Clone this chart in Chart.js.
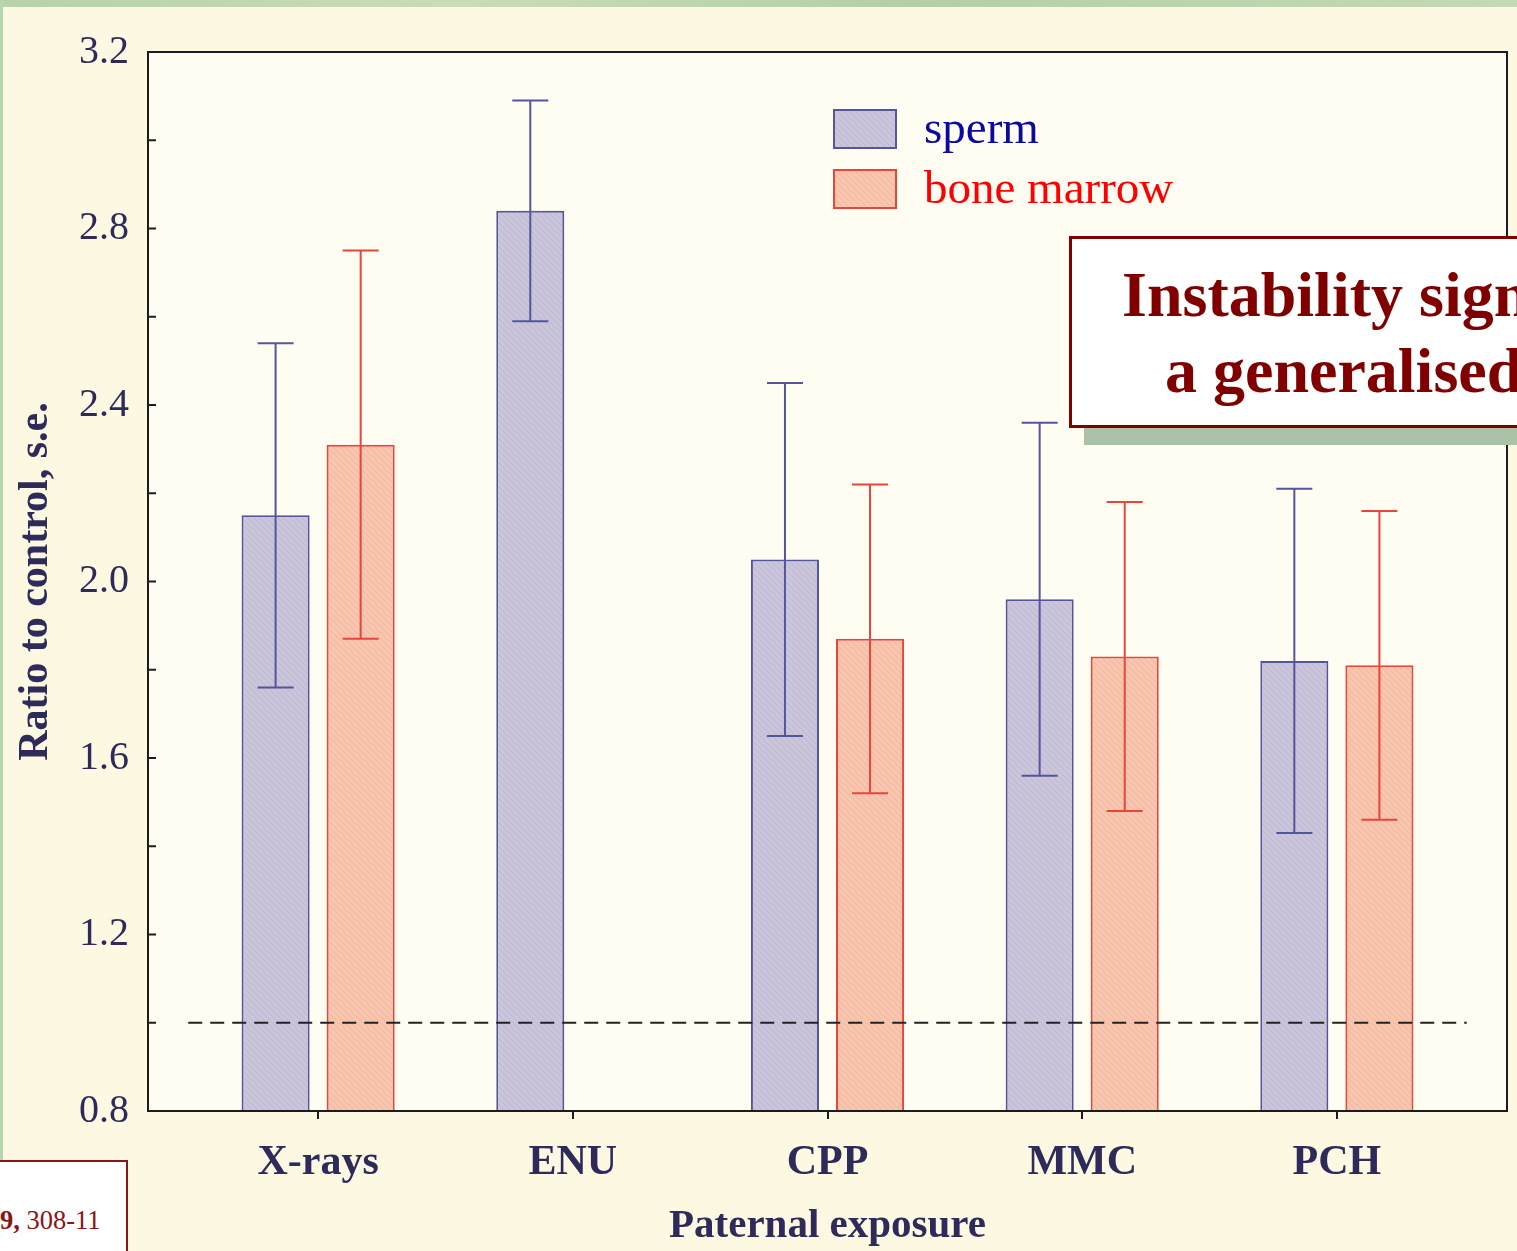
<!DOCTYPE html>
<html>
<head>
<meta charset="utf-8">
<script src="https://cdn.jsdelivr.net/npm/chart.js@4.4.0/dist/chart.umd.min.js"></script>
<style>
  html, body { margin: 0; padding: 0; }
  body {
    width: 1517px; height: 1251px; overflow: hidden; position: relative;
    background: #fdf8e2; font-family: "Liberation Serif", "DejaVu Serif", serif;
  }
  #grafica { position: absolute; left: 0; top: 0; }
  .franja-sup { position: absolute; left: 0; top: 0; width: 1517px; height: 7px;
    background: linear-gradient(90deg, #b7d1aa, #c9dcb8 30%, #b3cfa8 60%, #c4d9b5); }
  .franja-izq { position: absolute; left: 0; top: 0; width: 3px; height: 1160px; background: #b6d6ae; }
  .nota {
    position: absolute; left: 1069px; top: 236px; width: 600px; height: 186px;
    background: #ffffff; border: 3px solid #800000; box-shadow: 15px 17px 0 #a9c2a8;
    color: #800000; font-weight: bold; font-size: 64px; line-height: 64px; white-space: nowrap;
  }
  .nota span { position: absolute; }
  .ref {
    position: absolute; left: -3px; top: 1160px; width: 131px; height: 120px;
    background: #ffffff; border: 2px solid #8b1414; box-sizing: border-box;
    color: #8b1414; font-size: 26.5px; line-height: 26px; white-space: nowrap;
  }
  .ref span { position: absolute; left: 1px; top: 45px; }
</style>
</head>
<body>
<div class="franja-sup"></div>
<div class="franja-izq"></div>
<canvas id="grafica" width="1517" height="1251"></canvas>
<div class="nota">
  <span style="left:50px; top:24px;">Instability sign</span>
  <span style="left:93px; top:100px;">a generalised</span>
</div>
<div class="ref"><span><b>9,</b> 308-11</span></div>

<script>
// Datos
const categorias = ['X-rays', 'ENU', 'CPP', 'MMC', 'PCH'];
const esperma = [2.15, 2.84, 2.05, 1.96, 1.82];
const espermaBajo = [1.76, 2.59, 1.65, 1.56, 1.43];
const espermaAlto = [2.54, 3.09, 2.45, 2.36, 2.21];
const medula = [2.31, null, 1.87, 1.83, 1.81];
const medulaBajo = [1.87, null, 1.52, 1.48, 1.46];
const medulaAlto = [2.75, null, 2.22, 2.18, 2.16];
const nivelControl = 1.0;
const yMin = 0.8, yMax = 3.2, yPaso = 0.2;

const colorTexto = '#2e2a5a';

// Relleno rayado suave como en el original
function rayado(fondo, raya) {
  const c = document.createElement('canvas');
  c.width = 6; c.height = 6;
  const g = c.getContext('2d');
  g.fillStyle = fondo;
  g.fillRect(0, 0, 6, 6);
  g.strokeStyle = raya;
  g.lineWidth = 1;
  g.beginPath();
  g.moveTo(-1, -1); g.lineTo(7, 7);
  g.moveTo(-4, 2); g.lineTo(1, 7);
  g.moveTo(2, -4); g.lineTo(7, 1);
  g.stroke();
  return g.createPattern(c, 'repeat');
}

const ctx = document.getElementById('grafica');

const fondoArea = {
  id: 'fondoArea',
  beforeDraw(chart) {
    const a = chart.chartArea, c = chart.ctx;
    c.save();
    c.fillStyle = '#fffcf2';
    c.fillRect(a.left, a.top, a.right - a.left, a.bottom - a.top);
    c.restore();
  }
};

const barrasError = {
  id: 'barrasError',
  afterDatasetsDraw(chart) {
    const c = chart.ctx, y = chart.scales.y, x = chart.scales.x;
    chart.data.datasets.forEach((ds, di) => {
      const meta = chart.getDatasetMeta(di);
      meta.data.forEach((bar, i) => {
        const lo = ds.errBajo[i], hi = ds.errAlto[i];
        if (lo == null || hi == null) return;
        const px = bar.x, y1 = y.getPixelForValue(lo), y2 = y.getPixelForValue(hi);
        c.save();
        c.strokeStyle = ds.colorError;
        c.lineWidth = 2;
        c.beginPath();
        c.moveTo(px, y1); c.lineTo(px, y2);
        c.moveTo(px - 18, y1); c.lineTo(px + 18, y1);
        c.moveTo(px - 18, y2); c.lineTo(px + 18, y2);
        c.stroke();
        c.restore();
      });
    });
    // línea de control discontinua
    const py = y.getPixelForValue(nivelControl);
    c.save();
    c.strokeStyle = '#222222';
    c.lineWidth = 2;
    c.setLineDash([14, 8]);
    c.beginPath();
    c.moveTo(x.getPixelForValue(-0.51), py);
    c.lineTo(x.getPixelForValue(4.51), py);
    c.stroke();
    c.restore();
  }
};

const marco = {
  id: 'marco',
  afterDraw(chart) {
    const a = chart.chartArea, c = chart.ctx, y = chart.scales.y;
    c.save();
    c.strokeStyle = '#1c1c1c';
    c.lineWidth = 2;
    c.strokeRect(a.left, a.top, a.right - a.left, a.bottom - a.top);
    c.beginPath();
    y.ticks.forEach(t => {
      const py = y.getPixelForValue(t.value);
      c.moveTo(a.left, py); c.lineTo(a.left + 8, py);
    });
    c.stroke();

    // leyenda dentro del área
    const lx = a.left + 686, ly = a.top + 58;
    chart.data.datasets.forEach((ds, i) => {
      const top = ly + i * 60;
      c.fillStyle = ds.backgroundColor;
      c.fillRect(lx, top, 62, 38);
      c.strokeStyle = ds.borderColor;
      c.lineWidth = 2;
      c.strokeRect(lx, top, 62, 38);
      c.fillStyle = ds.colorLeyenda;
      c.font = '47px "Liberation Serif"';
      c.textBaseline = 'alphabetic';
      c.textAlign = 'left';
      c.fillText(ds.label, lx + 90, top + 33);
    });
    c.restore();
  }
};

new Chart(ctx, {
  type: 'bar',
  data: {
    datasets: [{
      label: 'sperm',
      data: esperma.map((v, i) => ({ x: i, y: v })),
      errBajo: espermaBajo,
      errAlto: espermaAlto,
      backgroundColor: rayado('#cbc5db', '#bdb6d0'),
      borderColor: '#55559b',
      borderWidth: 2,
      colorError: '#55559b',
      colorLeyenda: '#0a0aa0',
      base: yMin
    }, {
      label: 'bone marrow',
      data: medula.map((v, i) => ({ x: i, y: v })),
      errBajo: medulaBajo,
      errAlto: medulaAlto,
      backgroundColor: rayado('#f8c5ae', '#f1b49d'),
      borderColor: '#e8463c',
      borderWidth: 2,
      colorError: '#e8463c',
      colorLeyenda: '#ff0000',
      base: yMin
    }]
  },
  options: {
    responsive: false,
    animation: false,
    devicePixelRatio: 1,
    categoryPercentage: 0.668,
    barPercentage: 0.8,
    layout: { padding: { left: 0, top: 52, right: 10, bottom: 0 } },
    plugins: {
      legend: { display: false },
      tooltip: { enabled: false }
    },
    scales: {
      x: {
        type: 'linear',
        min: -0.668,
        max: 4.668,
        offset: false,
        afterBuildTicks: s => { s.ticks = categorias.map((_, i) => ({ value: i })); },
        afterFit: s => { s.height = 140; },
        grid: { display: true, offset: false, drawOnChartArea: false, drawTicks: true, tickLength: 8, color: '#1c1c1c', lineWidth: 2 },
        border: { display: false },
        ticks: {
          autoSkip: false,
          maxRotation: 0,
          padding: 19,
          color: colorTexto,
          font: { family: 'Liberation Serif', size: 42, weight: 'bold' },
          callback: v => categorias[v]
        },
        title: {
          display: true,
          text: 'Paternal exposure',
          color: colorTexto,
          font: { family: 'Liberation Serif', size: 41, weight: 'bold' },
          padding: { top: 0, bottom: 0 }
        }
      },
      y: {
        min: yMin,
        max: yMax,
        afterFit: s => { s.width = 148; },
        grid: { display: false, drawTicks: false },
        border: { display: false },
        ticks: {
          stepSize: yPaso,
          autoSkip: false,
          padding: 19,
          color: colorTexto,
          font: { family: 'Liberation Serif', size: 40 },
          callback: v => (Math.round(v * 10) % 4 === 0 ? v.toFixed(1) : '')
        },
        title: {
          display: true,
          text: 'Ratio to control, s.e.',
          color: colorTexto,
          font: { family: 'Liberation Serif', size: 42, weight: 'bold' },
          padding: { top: 11, bottom: 0 }
        }
      }
    }
  },
  plugins: [fondoArea, barrasError, marco]
});
</script>
</body>
</html>
